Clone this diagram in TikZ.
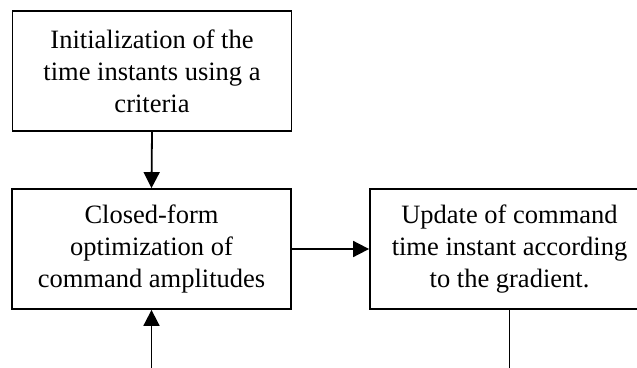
\documentclass[tikz,border=0pt]{standalone}
\usepackage{fontspec}
\setmainfont{Liberation Serif}
\usetikzlibrary{arrows.meta}
\tikzset{
  box/.style={draw=black, line width=1.8pt, rectangle, minimum width=279pt, minimum height=120pt,
    align=center, inner sep=0pt, font=\fontsize{26.5}{32}\selectfont},
  conn/.style={line width=1.8pt},
  arr/.style={conn, -{Triangle[length=16pt,width=16pt]}}
}
\begin{document}
\begin{tikzpicture}[x=1pt,y=-1pt]
\useasboundingbox (0,0) rectangle (637,367);
\clip (0,0) rectangle (637,367);
\fill[white] (0,0) rectangle (637,367);
\node[box] (init) at (152,71) {Initialization of the\\time instants using a\\criteria};
\node[box] (opt) at (151.5,249) {Closed-form\\optimization of\\command amplitudes};
\node[box] (upd) at (509.5,249) {Update of command\\time instant according\\to the gradient.};
\coordinate (l1) at (509.5,380);
\coordinate (l2) at (151.5,380);
\draw[arr] (init.south) -- (opt.north);
\draw[arr] (opt.east) -- (upd.west);
\draw[conn] (upd.south) -- (l1);
\draw[arr] (l2) -- (opt.south);
\end{tikzpicture}
\end{document}
